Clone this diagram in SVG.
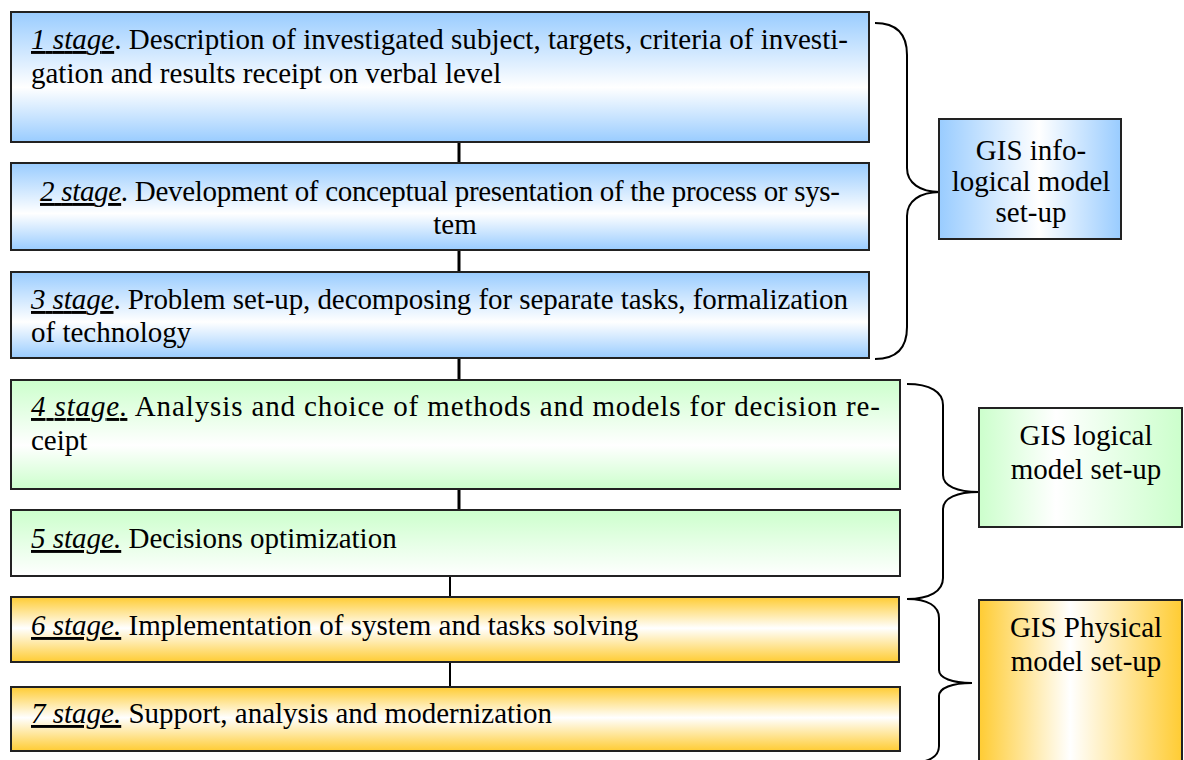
<svg xmlns="http://www.w3.org/2000/svg" width="1184" height="760" viewBox="0 0 1184 760">
<defs>
<linearGradient id="gBlue" x1="0" y1="0" x2="0" y2="1"><stop offset="0" stop-color="#99ccff"/><stop offset="0.58" stop-color="#ffffff"/><stop offset="1" stop-color="#99ccff"/></linearGradient>
<linearGradient id="gGreen" x1="0" y1="0" x2="0" y2="1"><stop offset="0" stop-color="#ccffcc"/><stop offset="0.6" stop-color="#ffffff"/><stop offset="1" stop-color="#ccffcc"/></linearGradient>
<linearGradient id="gGreen2" x1="0" y1="0" x2="0" y2="1"><stop offset="0" stop-color="#ccffcc"/><stop offset="1" stop-color="#ffffff"/></linearGradient>
<linearGradient id="gOrange" x1="0" y1="0" x2="0" y2="1"><stop offset="0" stop-color="#ffcc33"/><stop offset="0.48" stop-color="#ffffff"/><stop offset="1" stop-color="#ffcc33"/></linearGradient>
<linearGradient id="hBlue" x1="0" y1="0" x2="1" y2="0"><stop offset="0" stop-color="#99ccff"/><stop offset="0.55" stop-color="#ffffff"/><stop offset="1" stop-color="#99ccff"/></linearGradient>
<linearGradient id="hGreen" x1="0" y1="0" x2="1" y2="0"><stop offset="0" stop-color="#ccffcc"/><stop offset="0.38" stop-color="#ffffff"/><stop offset="1" stop-color="#ccffcc"/></linearGradient>
<linearGradient id="hOrange" x1="0" y1="0" x2="1" y2="0"><stop offset="0" stop-color="#ffcc33"/><stop offset="0.45" stop-color="#ffffff"/><stop offset="1" stop-color="#ffcc33"/></linearGradient>
</defs>
<style>
.box{stroke:#222;stroke-width:2}
.t{font-family:"Liberation Serif","Times New Roman",serif;font-size:29px;fill:#000}
.i{font-style:italic;text-decoration:underline}
.c{text-anchor:middle}
.conn{stroke:#000;fill:none}
.brace{stroke:#000;stroke-width:2;fill:none}
</style>
<rect width="1184" height="760" fill="#fff"/>
<g id="connectors">
<line class="conn" x1="459" y1="142" x2="459" y2="163" stroke-width="3"/>
<line class="conn" x1="459" y1="250" x2="459" y2="272" stroke-width="3"/>
<line class="conn" x1="459" y1="358" x2="459" y2="380" stroke-width="3"/>
<line class="conn" x1="459" y1="489" x2="459" y2="510" stroke-width="3"/>
<line class="conn" x1="450" y1="576" x2="450" y2="597" stroke-width="2"/>
<line class="conn" x1="450" y1="662" x2="450" y2="687" stroke-width="2"/>
<path class="brace" d="M875,23 C895,23 907,33 907,55 L907,168 C907,183 920,192 940,192 C920,192 907,201 907,216 L907,327 C907,349 895,359 875,359"/>
<path class="brace" d="M907,384 C930,384 943,392 943,405 L943,475 C943,486 957,492 979,492 C957,492 943,498 943,509 L943,578 C943,591 930,599 907,599"/>
<path class="brace" d="M907,599 C928,599 939,606 939,618 L939,670 C939,678 952,683 972,683 C952,683 939,688 939,696 L939,746 C939,756 930,763 907,763"/>
</g>
<g id="stage1">
<rect class="box" x="11" y="12" width="858" height="130" fill="url(#gBlue)"/>
<text class="t" x="31" y="49" textLength="817" lengthAdjust="spacing"><tspan class="i">1 stage</tspan>. Description of investigated subject, targets, criteria of investi-</text>
<text class="t" x="31" y="83">gation and results receipt on verbal level</text>
</g>
<g id="stage2">
<rect class="box" x="11" y="163" width="858" height="87" fill="url(#gBlue)"/>
<text class="t" x="40" y="201" textLength="800" lengthAdjust="spacing"><tspan class="i">2 stage</tspan>. Development of conceptual presentation of the process or sys-</text>
<text class="t c" x="455" y="234">tem</text>
</g>
<g id="stage3">
<rect class="box" x="11" y="272" width="858" height="86" fill="url(#gBlue)"/>
<text class="t" x="31" y="309" textLength="817" lengthAdjust="spacing"><tspan class="i">3 stage</tspan>. Problem set-up, decomposing for separate tasks, formalization</text>
<text class="t" x="31" y="342">of technology</text>
</g>
<g id="stage4">
<rect class="box" x="11" y="380" width="889" height="109" fill="url(#gGreen)"/>
<text class="t" x="31" y="416" textLength="849" lengthAdjust="spacing"><tspan class="i">4 stage.</tspan> Analysis and choice of methods and models for decision re-</text>
<text class="t" x="31" y="450">ceipt</text>
</g>
<g id="stage5">
<rect class="box" x="11" y="510" width="889" height="66" fill="url(#gGreen2)"/>
<text class="t" x="31" y="548"><tspan class="i">5 stage.</tspan> Decisions optimization</text>
</g>
<g id="stage6">
<rect class="box" x="11" y="597" width="888" height="65" fill="url(#gOrange)"/>
<text class="t" x="31" y="635"><tspan class="i">6 stage.</tspan> Implementation of system and tasks solving</text>
</g>
<g id="stage7">
<rect class="box" x="11" y="687" width="889" height="64" fill="url(#gOrange)"/>
<text class="t" x="31" y="723"><tspan class="i">7 stage.</tspan> Support, analysis and modernization</text>
</g>
<g id="label-infological">
<rect class="box" x="939" y="119" width="182" height="120" fill="url(#hBlue)"/>
<text class="t c" x="1031" y="160">GIS info-</text>
<text class="t c" x="1031" y="191">logical model</text>
<text class="t c" x="1031" y="222">set-up</text>
</g>
<g id="label-logical">
<rect class="box" x="979" y="408" width="203" height="119" fill="url(#hGreen)"/>
<text class="t c" x="1086" y="445">GIS logical</text>
<text class="t c" x="1086" y="479">model set-up</text>
</g>
<g id="label-physical">
<rect class="box" x="979" y="600" width="203" height="170" fill="url(#hOrange)"/>
<text class="t c" x="1086" y="637">GIS Physical</text>
<text class="t c" x="1086" y="671">model set-up</text>
</g>
</svg>
